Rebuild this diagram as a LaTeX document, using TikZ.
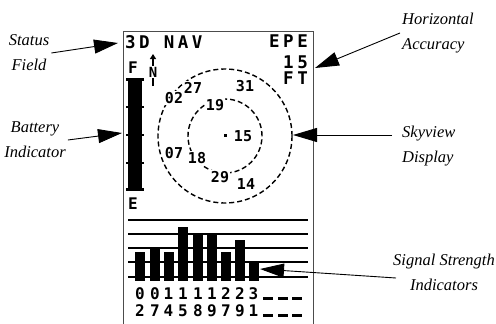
\documentclass[tikz,border=0pt]{standalone}
\usepackage{fontspec}
\setmainfont{Liberation Serif}
\newfontfamily\lcd{DejaVu Sans Mono}[LetterSpace=20]
\newfontfamily\lcdplain{DejaVu Sans Mono}
\usetikzlibrary{arrows.meta}
\begin{document}
\begin{tikzpicture}[x=1pt,y=-1pt]
\tikzstyle{legende} = [font=\fontsize{16.5}{25}\selectfont\itshape, align=center, inner sep=2pt] %textes autour
\tikzstyle{fleche} = [-{Triangle[length=24pt,width=14pt]}, line width=0.9pt]
\tikzstyle{ecran} = [font=\lcd\bfseries\fontsize{17.5}{17.5}\selectfont, inner sep=0pt]
\tikzstyle{chiffre} = [font=\lcdplain\bfseries\fontsize{16}{16}\selectfont, inner sep=0pt]
\tikzstyle{sat} = [font=\lcdplain\bfseries\fontsize{15}{15}\selectfont, fill=white, inner sep=1pt]
\tikzstyle{pointille} = [line width=1.4pt, dash pattern=on 5pt off 3pt]

\useasboundingbox (0,0) rectangle (496,324);

%cadre de l'ecran
\draw[gray!60!black, line width=0.8pt] (123,324)--(123,31)--(313,31)--(313,324);

%ligne d'etat
\draw(125,35)node[ecran,anchor=north west](etat){3D NAV};
\draw(308,35)node[ecran,anchor=north east](epe){EPE};
\draw(308,56)node[ecran,anchor=north east](epeval){15};
\draw(308,72)node[ecran,anchor=north east](epeft){FT};

%batterie
\draw(128,62)node[chiffre,anchor=north west](plein){F};
\draw(128,198)node[chiffre,anchor=north west](vide){E};
\fill (128,78) rectangle (142,191);
\fill (126,78) rectangle (144,81);
\fill (126,188) rectangle (144,191);
\foreach \y in {107,135,163}
  \fill (126,\y-1) rectangle (144,\y+1);

%nord
\draw[-{Triangle[length=5pt,width=6pt]}, line width=1.6pt] (153,86)--(153,54);
\draw(153,72)node[sat,inner sep=0.5pt,font=\lcdplain\bfseries\fontsize{14}{14}\selectfont](nord){N};

%ciel
\coordinate (centre) at (225,136);
\draw[pointille] (centre) circle[radius=67pt];
\draw[pointille] (centre) circle[radius=37pt];
\fill (224,134) rectangle (226.5,136.5);
\foreach \x/\y/\n in {174/98/02, 193/88/27, 245/86/31, 215/105/19, 243/136/15,
                      174/153/07, 197/158/18, 220/177/29, 246/184/14}
  \draw(\x,\y)node[sat](s\n){\n};

%barres de signal
\foreach \y in {220,234,248,262,277}
  \draw[line width=2pt] (128,\y)--(308,\y);
\foreach \x/\h in {140/252, 155/248, 168.5/252, 183/227, 198/234, 212/234, 226/252, 240/240, 253.5/262}
  \fill (\x-5,\h) rectangle (\x+5,281);
\foreach \x/\a/\b [count=\i] in {140/0/2, 155/0/7, 168.5/1/4, 183/1/5, 198/1/8, 212/1/9, 226/2/7, 240/2/9, 253.5/3/1}
{
  \draw(\x,294)node[chiffre](h\i){\a};
  \draw(\x,311)node[chiffre](b\i){\b};
}
\foreach \x in {268,283,297}
{
  \fill (\x-5,297) rectangle (\x+5,300);
  \fill (\x-5,314) rectangle (\x+5,317);
}

%legendes
\draw(29,53)node[legende](statut){Status\\Field};
\draw(35,140)node[legende](batterie){Battery\\Indicator};
\draw(400,33)node[legende,align=left,anchor=west](precision){Horizontal\\Accuracy};
\draw(400,146)node[legende,align=left,anchor=west](ciel){Skyview\\Display};
\draw(444,272)node[legende](signal){Signal Strength\\Indicators};

%pointes des fleches
\coordinate (pStatut) at (118,43);
\coordinate (pBatterie) at (122,133);
\coordinate (pPrecision) at (315,68);
\coordinate (pCiel) at (293,135);
\coordinate (pSignal) at (260,269);

%fleches
\draw[fleche] (statut.east)--(pStatut);
\draw[fleche] (batterie.east)--(pBatterie);
\draw[fleche] (precision.west)--(pPrecision);
\draw[fleche] ([xshift=-8pt,yshift=11pt]ciel.west)--(pCiel);
\draw[fleche] ([xshift=5pt,yshift=-6pt]signal.west)--(pSignal);
\end{tikzpicture}
\end{document}
